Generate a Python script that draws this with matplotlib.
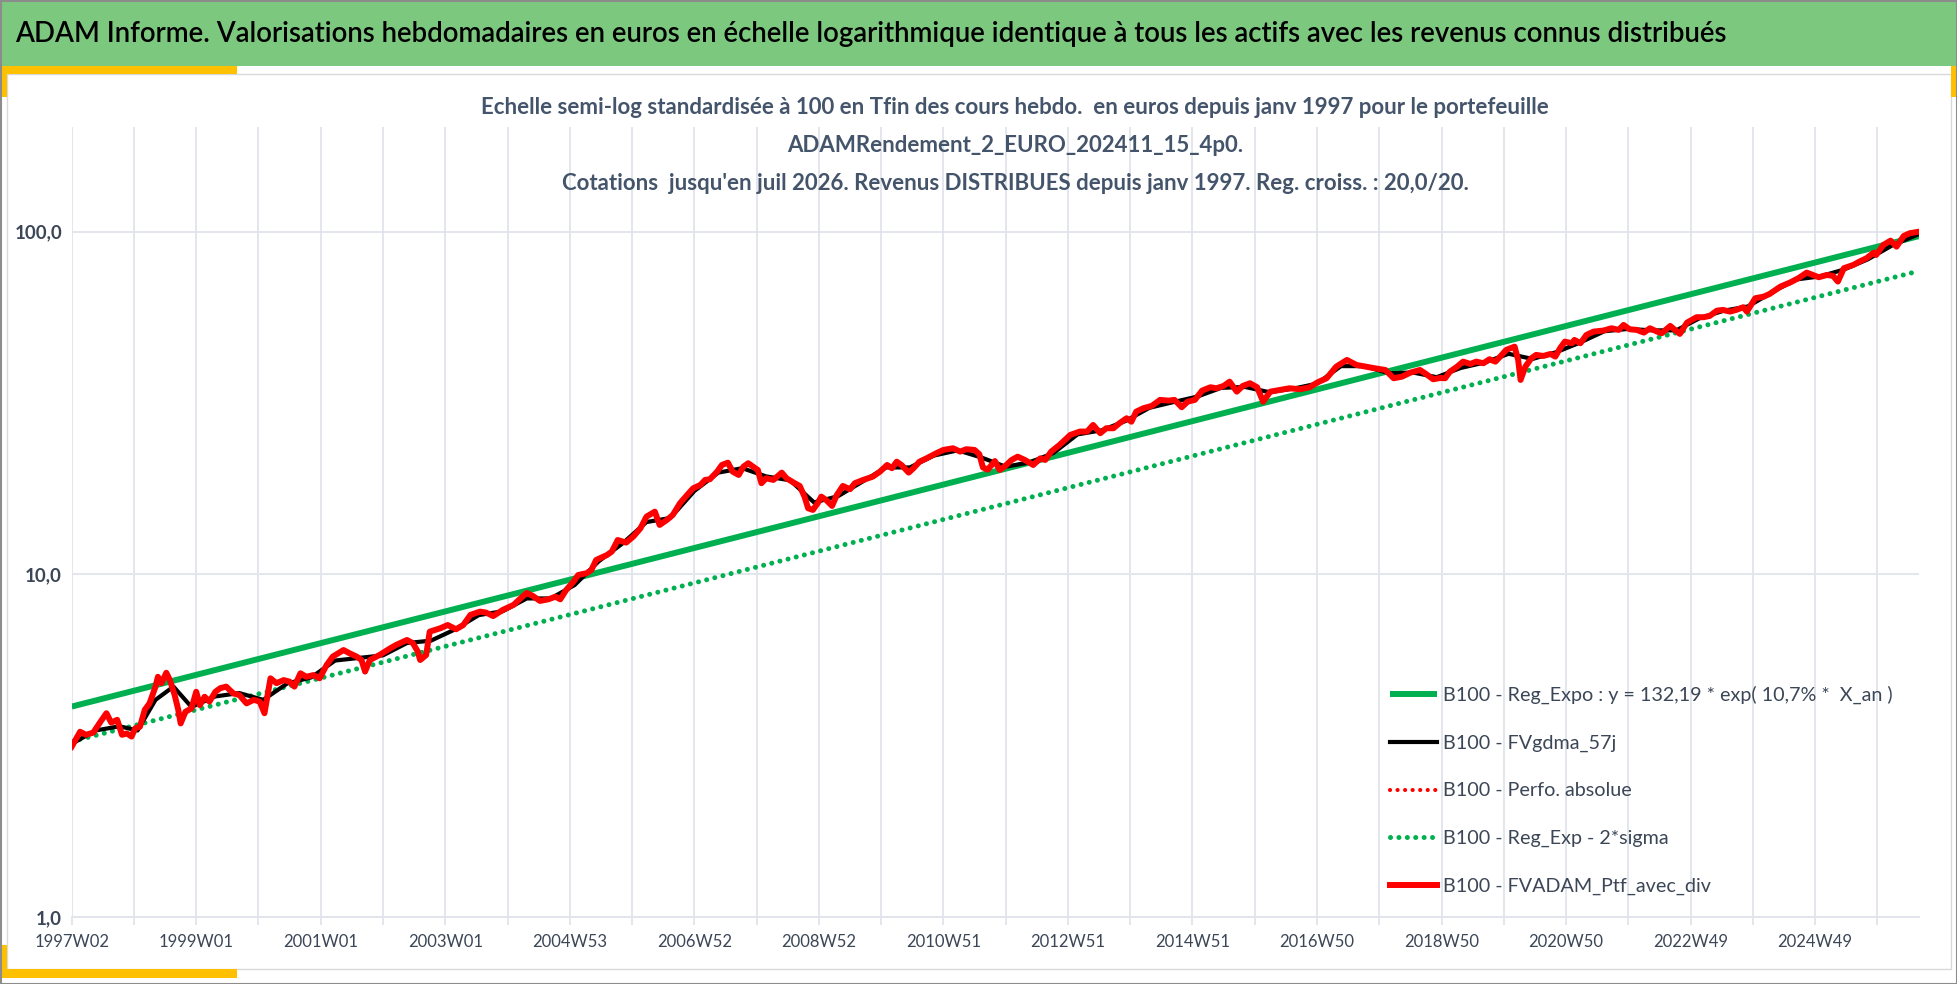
import numpy as np
import matplotlib
matplotlib.use('Agg')
import matplotlib.pyplot as plt
from matplotlib.patches import Rectangle

plt.rcParams['font.family'] = ['Lato', 'DejaVu Sans']

# weekly index from 1997W02, values base 100 at the end
red_weeks = [0, 7, 12, 18, 24, 29, 33, 38, 42, 46, 50, 53, 57, 61, 65, 70, 72, 75, 79, 82,
             86, 89, 91, 95, 100, 104, 107, 111, 115, 120, 124, 129, 135, 140, 146, 152, 157, 161, 166, 171,
             177, 182, 186, 191, 196, 202, 207, 213, 218, 227, 232, 238, 242, 245, 249, 257, 266, 271, 280, 285,
             289, 291, 296, 299, 308, 314, 321, 327, 333, 341, 346, 352, 360, 369, 374, 380, 385, 391, 398, 404,
             408, 413, 419, 423, 430, 434, 438, 447, 451, 456, 463, 469, 475, 480, 487, 491, 497, 502, 508, 514,
             519, 525, 529, 533, 539, 543, 548, 552, 557, 561, 565, 569, 573, 576, 580, 586, 593, 597, 603, 608,
             612, 615, 619, 623, 626, 630, 635, 639, 644, 650, 654, 661, 669, 675, 681, 685, 689, 693, 699, 703,
             708, 714, 722, 728, 736, 742, 747, 754, 758, 761, 765, 771, 775, 779, 785, 790, 796, 803, 809, 813,
             818, 825, 834, 842, 848, 853, 859, 864, 870, 875, 881, 885, 889, 895, 902, 909, 916, 921, 927, 932,
             938, 944, 951, 956, 962, 967, 973, 978, 984, 990, 995, 1001, 1009, 1017, 1026, 1034, 1040, 1048, 1056, 1065,
             1073, 1081, 1088, 1097, 1104, 1111, 1118, 1126, 1131, 1137, 1143, 1147, 1151, 1157, 1162, 1168, 1173, 1179, 1184, 1189,
             1193, 1198, 1205, 1208, 1210, 1214, 1219, 1223, 1229, 1235, 1239, 1243, 1247, 1253, 1255, 1260, 1265, 1271, 1279, 1286,
             1292, 1296, 1301, 1307, 1313, 1318, 1324, 1328, 1335, 1339, 1343, 1349, 1357, 1363, 1368, 1374, 1379, 1385, 1390, 1396,
             1399, 1406, 1413, 1418, 1427, 1435, 1442, 1449, 1459, 1466, 1471, 1475, 1480, 1488, 1493, 1499, 1505, 1507, 1513, 1519,
             1524, 1530, 1535, 1543]
red_vals = [3.14, 3.47, 3.40, 3.45, 3.71, 3.93, 3.69, 3.76, 3.40, 3.43, 3.36, 3.55, 3.59, 4.02, 4.20, 4.70, 5.02, 4.81, 5.16, 4.91,
            4.44, 4.02, 3.67, 3.97, 4.06, 4.54, 4.15, 4.39, 4.25, 4.54, 4.65, 4.70, 4.49, 4.44, 4.20, 4.30, 4.25, 3.93, 4.97, 4.81,
            4.91, 4.86, 4.70, 5.14, 5.02, 5.08, 4.97, 5.44, 5.75, 6.01, 5.88, 5.75, 5.62, 5.20, 5.62, 5.81, 6.08, 6.22, 6.43, 6.29,
            5.95, 5.62, 5.81, 6.80, 6.96, 7.11, 6.91, 7.11, 7.61, 7.78, 7.73, 7.55, 7.87, 8.14, 8.45, 8.82, 8.65, 8.36, 8.45, 8.60,
            8.45, 9.00, 9.51, 9.95, 10.07, 10.29, 11.01, 11.38, 11.64, 12.59, 12.37, 12.88, 13.62, 14.73, 15.23, 13.93, 14.40, 14.90, 16.12, 17.04,
            17.82, 18.22, 18.85, 18.94, 19.93, 20.84, 21.17, 19.93, 19.49, 20.61, 21.09, 20.61, 20.16, 18.44, 19.06, 18.85, 19.80, 19.06, 18.51, 18.10,
            16.85, 15.58, 15.41, 16.12, 16.85, 16.48, 15.83, 17.04, 18.10, 17.71, 18.44, 18.85, 19.27, 19.93, 20.84, 20.39, 21.31, 20.84, 19.80, 20.39,
            21.31, 21.80, 22.55, 23.06, 23.32, 22.80, 23.17, 23.06, 22.40, 20.50, 20.20, 21.40, 20.16, 20.61, 21.56, 22.04, 21.56, 20.84, 21.80, 21.56,
            22.80, 23.85, 25.51, 26.09, 26.09, 27.28, 25.80, 26.68, 26.68, 27.59, 28.53, 27.88, 29.83, 30.52, 31.00, 32.28, 32.12, 32.28, 30.72, 31.90,
            32.28, 34.35, 35.14, 34.90, 35.45, 36.49, 34.12, 35.45, 36.10, 35.14, 31.90, 34.12, 34.51, 34.90, 34.67, 35.14, 36.25, 37.33, 40.35, 42.22,
            40.82, 40.35, 39.93, 39.47, 37.33, 37.74, 38.77, 39.47, 38.43, 37.08, 37.40, 37.33, 39.03, 40.35, 41.74, 41.10, 41.74, 41.29, 42.42, 41.74,
            43.18, 45.16, 46.17, 42.22, 36.91, 40.35, 42.71, 43.67, 43.37, 43.95, 43.18, 45.68, 47.75, 47.24, 48.30, 47.24, 49.95, 51.08, 51.42, 52.24,
            51.66, 53.42, 51.90, 51.66, 50.73, 52.24, 51.08, 50.53, 53.06, 51.66, 50.29, 54.26, 56.27, 56.27, 56.75, 58.81, 59.08, 58.42, 59.08, 60.17,
            58.42, 63.91, 64.60, 65.78, 69.10, 71.01, 73.11, 75.93, 73.60, 74.75, 74.25, 71.49, 78.21, 79.97, 81.76, 83.66, 86.86, 85.51, 91.46, 94.13,
            90.41, 97.14, 98.92, 100.0]

black_weeks = [0, 20, 40, 55, 70, 85, 100, 120, 140, 160, 180, 200, 220, 240, 260, 280, 300, 320, 340, 360,
               380, 400, 420, 440, 460, 480, 500, 520, 540, 560, 580, 600, 620, 640, 660, 680, 700, 720, 740, 760,
               780, 800, 820, 840, 860, 880, 900, 920, 940, 960, 980, 1000, 1020, 1040, 1060, 1080, 1100, 1120, 1140, 1160,
               1180, 1200, 1220, 1240, 1260, 1280, 1300, 1320, 1340, 1360, 1380, 1400, 1420, 1440, 1460, 1480, 1500, 1520, 1543]
black_vals = [3.2, 3.5, 3.6, 3.5, 4.3, 4.7, 4.1, 4.4, 4.5, 4.3, 4.8, 5.0, 5.6, 5.7, 5.8, 6.3, 6.4, 6.9, 7.6, 7.8,
              8.5, 8.5, 9.3, 10.9, 12.3, 14.2, 14.6, 17.5, 19.8, 20.4, 19.3, 18.8, 16.2, 16.9, 18.6, 20.5, 20.5, 22.2, 23.0, 21.9,
              20.6, 21.2, 22.6, 25.6, 26.3, 28.0, 30.6, 31.8, 33.0, 35.0, 35.2, 34.0, 34.8, 36.0, 40.5, 40.5, 38.6, 38.8, 37.6, 40.0,
              41.5, 44.0, 42.5, 44.5, 47.5, 51.2, 52.0, 51.5, 51.5, 56.0, 58.8, 60.5, 66.5, 72.5, 74.0, 77.5, 83.0, 91.0, 98.5]

reg_weeks = [0, 1543]
reg_vals = [4.11, 97.1]
reg_low_vals = [3.25, 76.8]

tick_labels = ['1997W02', '1999W01', '2001W01', '2003W01', '2004W53', '2006W52', '2008W52', '2010W51',
               '2012W51', '2014W51', '2016W50', '2018W50', '2020W50', '2022W49', '2024W49']

legend_labels = ['B100 - Reg_Expo : y = 132,19 * exp( 10,7% *  X_an )',
                 'B100 - FVgdma_57j',
                 'B100 - Perfo. absolue',
                 'B100 - Reg_Exp - 2*sigma',
                 'B100 - FVADAM_Ptf_avec_div']

W, H = 1958, 984
fig = plt.figure(figsize=(W / 100, H / 100), dpi=100)
renderer = fig.canvas.get_renderer()

def px(x0, y0, x1, y1):
    # pixel box (top-left origin) -> figure fraction rect
    return (x0 / W, 1 - y1 / H), (x1 - x0) / W, (y1 - y0) / H

def box(x0, y0, x1, y1, **kw):
    xy, w, h = px(x0, y0, x1, y1)
    fig.patches.append(Rectangle(xy, w, h, transform=fig.transFigure, zorder=-5, **kw))

def fit(t, width_px):
    # shrink/grow the font so the text spans width_px
    w = t.get_window_extent(renderer).width
    t.set_fontsize(t.get_fontsize() * width_px / w)

# header band, frame and yellow corners
box(0, 0, W, 66, facecolor='#7DC87F', edgecolor='none')
box(7, 74, 1951, 969, facecolor='white', edgecolor='#D9D9D9', lw=1)
yel = '#FFC000'
box(0, 66, 237, 74, facecolor=yel, edgecolor='none')
box(0, 66, 7, 97, facecolor=yel, edgecolor='none')
box(0, 969, 237, 978, facecolor=yel, edgecolor='none')
box(0, 945, 7, 978, facecolor=yel, edgecolor='none')
box(1951, 66, W, 97, facecolor=yel, edgecolor='none')
box(0.5, 0.5, W - 0.5, H - 0.5, facecolor='none', edgecolor='#8C8C8C', lw=1.5)

t = fig.text(15 / W, 1 - 34 / H,
             'ADAM Informe. Valorisations hebdomadaires en euros en échelle logarithmique identique à tous les actifs avec les revenus connus distribués',
             ha='left', va='center', fontsize=22, fontweight='semibold', color='black')
fit(t, 1715)

tcol = '#44546A'
t1 = fig.text(1015 / W, 1 - 107 / H,
              'Echelle semi-log standardisée à 100 en Tfin des cours hebdo.  en euros depuis janv 1997 pour le portefeuille',
              ha='center', va='center', fontsize=15, fontweight='bold', color=tcol)
fit(t1, 1069)
fig.text(1015 / W, 1 - 146 / H, 'ADAMRendement_2_EURO_202411_15_4p0.',
         ha='center', va='center', fontsize=t1.get_fontsize(), fontweight='bold', color=tcol)
fig.text(1015 / W, 1 - 184 / H,
         "Cotations  jusqu'en juil 2026. Revenus DISTRIBUES depuis janv 1997. Reg. croiss. : 20,0/20.",
         ha='center', va='center', fontsize=t1.get_fontsize(), fontweight='bold', color=tcol)

ax = fig.add_axes([71.7 / W, 1 - 916.9 / H, (1919.3 - 71.7) / W, (916.9 - 127) / H])
ax.set_yscale('log')
ax.set_ylim(1, 202)
ax.set_xlim(0, 1543)
ax.patch.set_alpha(0)

green = '#00B050'
ax.plot(reg_weeks, reg_vals, color=green, lw=4.3, solid_capstyle='butt', label=legend_labels[0], zorder=3)
ax.plot(black_weeks, black_vals, color='black', lw=3.0, label=legend_labels[1], zorder=4)
ax.plot(red_weeks, red_vals, color='red', lw=3.0, ls=(0, (0.01, 1.8)), dash_capstyle='round',
        label=legend_labels[2], zorder=4)
ax.plot(reg_weeks, reg_low_vals, color=green, lw=3.6, ls=(0, (0.01, 1.67)), dash_capstyle='round',
        label=legend_labels[3], zorder=3)
ax.plot(red_weeks, red_vals, color='red', lw=4.3, solid_joinstyle='round', label=legend_labels[4], zorder=5)

grid_col = '#E1E4EA'
ax.set_xticks(np.arange(0, 1543, 52), minor=True)
ax.set_xticks(np.arange(0, 1543, 104))
ax.set_xticklabels(tick_labels)
ax.set_yticks([1, 10, 100])
ax.set_yticklabels(['1,0', '10,0', '100,0'])
ax.yaxis.set_minor_locator(matplotlib.ticker.NullLocator())
ax.grid(True, which='both', axis='x', color=grid_col, lw=1.3)
ax.grid(True, which='major', axis='y', color=grid_col, lw=1.3)
ax.set_axisbelow(True)
for s in ['top', 'right', 'left']:
    ax.spines[s].set_visible(False)
ax.spines['bottom'].set_color(grid_col)
ax.spines['bottom'].set_linewidth(1.3)
ax.tick_params(axis='x', which='both', length=6, width=1.3, color=grid_col, labelsize=12,
               labelcolor='#3B4656', pad=6)
ax.tick_params(axis='y', length=0, labelsize=13.5, labelcolor='#3B4656', pad=7)
for lab in ax.get_yticklabels():
    lab.set_fontweight('bold')

leg = ax.legend(loc='upper left', bbox_to_anchor=(1372 / W, 1 - 668 / H), bbox_transform=fig.transFigure,
                frameon=False, fontsize=14.2, handlelength=2.4, handletextpad=0.3, labelspacing=1.55)
for lt in leg.get_texts():
    lt.set_color('#3B4656')

fig.savefig('out.png', dpi=100)
